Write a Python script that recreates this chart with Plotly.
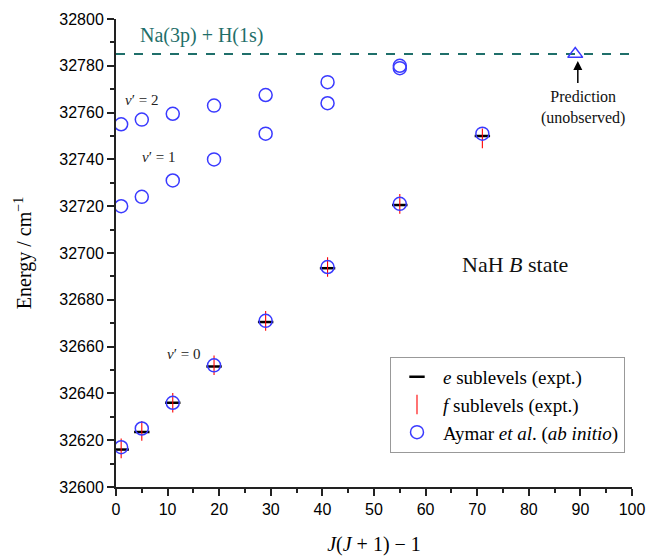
import plotly.graph_objects as go

# ---- data ----
x_levels = [1, 5, 11, 19, 29, 41, 55, 71]
e_v0 = [32616, 32623.5, 32636, 32651.5, 32670.5, 32693.5, 32720.5, 32750]
f_v0 = [32616.5, 32624, 32636, 32652, 32671, 32694, 32721, 32749]

ab_x_v0 = [1, 5, 11, 19, 29, 41, 55, 71]
ab_v0 = [32617, 32625, 32636, 32652, 32671, 32694, 32721, 32751]
ab_x_v1 = [1, 5, 11, 19, 29, 41, 55]
ab_v1 = [32720, 32724, 32731, 32740, 32751, 32764, 32779]
ab_x_v2 = [1, 5, 11, 19, 29, 41, 55]
ab_v2 = [32755, 32757, 32759.5, 32763, 32767.5, 32773, 32780]

pred_x = [89]
pred_y = [32785]

asymptote = 32785
x_range = [0, 100]
y_range = [32600, 32800]

SERIF = "Liberation Serif, Times New Roman, serif"
SANS = "Liberation Sans, Arial, sans-serif"
BLUE = "#3a3aff"
TEAL = "#1f6f6a"

fig = go.Figure()

# asymptote dashed line
fig.add_trace(go.Scatter(x=x_range, y=[asymptote, asymptote], mode="lines",
                         line=dict(color=TEAL, width=2, dash="dash"),
                         showlegend=False, hoverinfo="skip"))

# e sublevels
fig.add_trace(go.Scatter(x=x_levels, y=e_v0, mode="markers", name="<i>e</i> sublevels (expt.)",
                         marker=dict(symbol="line-ew", size=11, line=dict(width=2.5, color="black"))))
# f sublevels
fig.add_trace(go.Scatter(x=x_levels, y=f_v0, mode="markers", name="<i>f</i> sublevels (expt.)",
                         marker=dict(symbol="line-ns", size=14, line=dict(width=1.1, color="red"))))
# ab initio
ab_x = ab_x_v0 + ab_x_v1 + ab_x_v2
ab_y = ab_v0 + ab_v1 + ab_v2
fig.add_trace(go.Scatter(x=ab_x, y=ab_y, mode="markers",
                         name="Aymar <i>et al</i>. (<i>ab initio</i>)",
                         marker=dict(symbol="circle-open", size=13, color=BLUE, line=dict(width=1.5, color=BLUE))))
# prediction
fig.add_trace(go.Scatter(x=pred_x, y=pred_y, mode="markers", showlegend=False,
                         marker=dict(symbol="triangle-up-open", size=13, color=BLUE,
                                     line=dict(width=1.5, color=BLUE))))

annotations = [
    dict(x=16.5, y=32793, text="Na(3p) + H(1s)", showarrow=False,
         font=dict(family=SERIF, size=20, color=TEAL)),
    dict(x=5, y=32765.5, text="<i>v</i>′ = 2", showarrow=False,
         font=dict(family=SERIF, size=15, color="#222")),
    dict(x=8.2, y=32741, text="<i>v</i>′ = 1", showarrow=False,
         font=dict(family=SERIF, size=15, color="#222")),
    dict(x=13, y=32657, text="<i>v</i>′ = 0", showarrow=False,
         font=dict(family=SERIF, size=15, color="#222")),
    dict(x=77.3, y=32695, text="NaH <i>B</i> state", showarrow=False,
         font=dict(family=SERIF, size=22, color="#111")),
    dict(x=90.5, y=32762, text="Prediction<br>(unobserved)", showarrow=False,
         font=dict(family=SERIF, size=16, color="#111"), yanchor="middle"),
    dict(x=89.5, y=32782, ax=89.5, ay=32772, axref="x", ayref="y", xref="x", yref="y",
         text="", showarrow=True, arrowhead=2, arrowsize=1.2, arrowwidth=1.5, arrowcolor="black"),
]

fig.update_layout(
    width=651, height=556,
    margin=dict(l=116, r=19, t=19, b=69),
    paper_bgcolor="white", plot_bgcolor="white",
    font=dict(family=SANS, size=16, color="black"),
    annotations=annotations,
    legend=dict(x=0.531, y=0.278, xanchor="left", yanchor="top",
                bordercolor="#999", borderwidth=1, bgcolor="white",
                font=dict(family=SERIF, size=19), tracegroupgap=0, itemwidth=42),
    xaxis=dict(range=x_range, dtick=10, tick0=0, showgrid=False, zeroline=False,
               showline=True, linecolor="#222", linewidth=2, ticks="outside", ticklen=7,
               tickwidth=2, tickcolor="#222", automargin=False,
               minor=dict(dtick=5, ticks="outside", ticklen=4, tickwidth=1.5, tickcolor="#222"),
               title=dict(text="<i>J</i>(<i>J</i> + 1) − 1", font=dict(family=SERIF, size=20),
                          standoff=22),
               tickfont=dict(family=SANS, size=16)),
    yaxis=dict(range=y_range, dtick=20, tick0=32600, showgrid=False, zeroline=False,
               showline=True, linecolor="#222", linewidth=2, ticks="outside", ticklen=7,
               tickwidth=2, tickcolor="#222", automargin=False,
               minor=dict(dtick=10, ticks="outside", ticklen=4, tickwidth=1.5, tickcolor="#222"),
               title=dict(text="Energy / cm<sup>−1</sup>", font=dict(family=SERIF, size=20),
                          standoff=22),
               tickfont=dict(family=SANS, size=16), tickformat="d"),
)

fig.write_html("out.html")
